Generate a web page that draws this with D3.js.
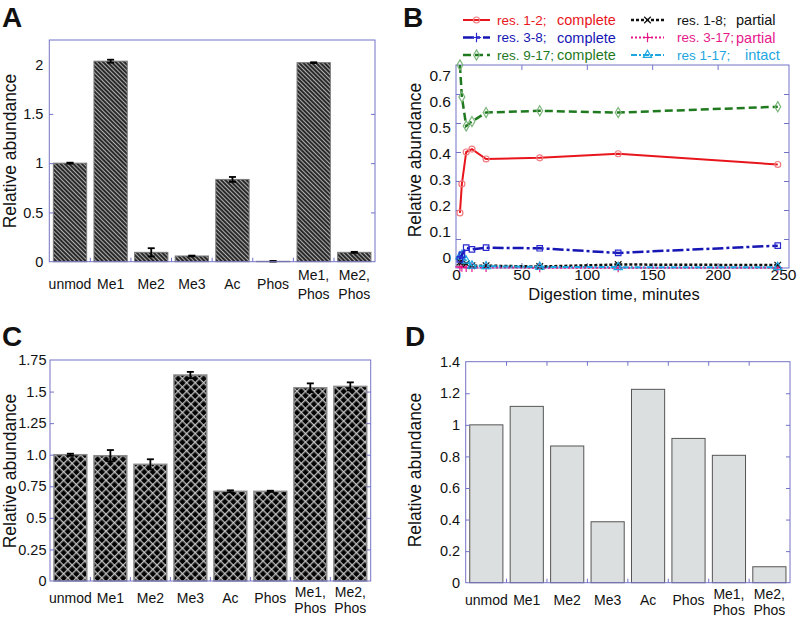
<!DOCTYPE html>
<html>
<head>
<meta charset="utf-8">
<script src="https://cdn.jsdelivr.net/npm/d3@7"></script>
<style>
  body { margin: 0; background: #fff; }
  text { font-family: 'Liberation Sans', Arial, sans-serif; fill: #111; }
</style>
</head>
<body>
<svg id="fig" width="800" height="619"></svg>
<script>
// ---- data ----
const categories = [['unmod'], ['Me1'], ['Me2'], ['Me3'], ['Ac'], ['Phos'], ['Me1,', 'Phos'], ['Me2,', 'Phos']]

const valuesA = [1.0, 2.035, 0.095, 0.058, 0.835, 0.004, 2.02, 0.095]
const errorsA = [0.005, 0.015, 0.042, 0.004, 0.025, 0.003, 0.004, 0.005]
const ticksA = [0, 0.5, 1, 1.5, 2]
const tickLabelsA = ['0', '0.5', '1', '1.5', '2']

const valuesC = [1.0, 0.992, 0.924, 1.631, 0.71, 0.71, 1.53, 1.541]
const errorsC = [0.008, 0.045, 0.04, 0.025, 0.008, 0.005, 0.035, 0.032]
const ticksC = [0, 0.25, 0.5, 0.75, 1, 1.25, 1.5, 1.75]
const tickLabelsC = ['0', '0.25', '0.5', '0.75', '1.0', '1.25', '1.5', '1.75']

const valuesD = [1.0, 1.117, 0.866, 0.386, 1.225, 0.914, 0.807, 0.101]
const ticksD = [0, 0.2, 0.4, 0.6, 0.8, 1, 1.2, 1.4]
const tickLabelsD = ['0', '0.2', '0.4', '0.6', '0.8', '1', '1.2', '1.4']

const times = [3, 4.5, 7.8, 12.2, 23, 64, 124, 246]
const res12 = [0.19, 0.29, 0.40, 0.41, 0.376, 0.38, 0.394, 0.357]
const res38 = [0.03, 0.045, 0.07, 0.064, 0.07, 0.068, 0.052, 0.077]
const res917 = [0.70, 0.59, 0.49, 0.505, 0.536, 0.542, 0.536, 0.556]
const res18 = [0.02, 0.02, 0.015, 0.008, 0.008, 0.005, 0.012, 0.01]
const res317 = [0.004, 0.003, 0.002, 0.002, 0.002, 0.001, 0.001, 0.001]
const res117 = [0.04, 0.045, 0.025, 0.008, 0.006, 0.004, 0.003, 0.003]
const xTicksB = [0, 50, 100, 150, 200, 250]
const yTicksB = [0, 0.1, 0.2, 0.3, 0.4, 0.5, 0.6, 0.7]
const legendNames = ['res. 1-2;', 'res. 3-8;', 'res. 9-17;', 'res. 1-8;', 'res. 3-17;', 'res 1-17;']
const legendStates = ['complete', 'complete', 'complete', 'partial', 'partial', 'intact']

const frameColor = '#7373c6'

const svg = d3.select('#fig')
const defs = svg.append('defs')

// diagonal stripes for panel A
const stripes = defs.append('pattern')
    .attr('id', 'stripes')
    .attr('patternUnits', 'userSpaceOnUse')
    .attr('width', 3).attr('height', 3)
    .attr('patternTransform', 'rotate(-45)')
stripes.append('rect').attr('width', 3).attr('height', 3).attr('fill', '#2a2a2a')
stripes.append('rect').attr('x', 0).attr('width', 1).attr('height', 3).attr('fill', '#808080')
stripes.append('rect').attr('x', 0.3).attr('width', 0.4).attr('height', 3).attr('fill', '#f4f4f4')

// diamond cross-hatch for panel C
const hatch = defs.append('pattern')
    .attr('id', 'hatch')
    .attr('patternUnits', 'userSpaceOnUse')
    .attr('width', 6).attr('height', 6)
    .attr('patternTransform', 'rotate(45)')
hatch.append('rect').attr('width', 6).attr('height', 6).attr('fill', '#030303')
hatch.append('rect').attr('width', 1.5).attr('height', 6).attr('fill', '#8a8a8a')
hatch.append('rect').attr('width', 6).attr('height', 1.5).attr('fill', '#8a8a8a')
hatch.append('rect').attr('x', 0.55).attr('width', 0.4).attr('height', 6).attr('fill', '#fff')
hatch.append('rect').attr('y', 0.55).attr('width', 6).attr('height', 0.4).attr('fill', '#fff')

const panelLetter = (x, y, s) => svg.append('text')
    .attr('x', x).attr('y', y)
    .attr('font-size', 28).attr('font-weight', 'bold')
    .text(s)

const yTitle = (cx, cy) => svg.append('text')
    .attr('transform', `translate(${cx},${cy}) rotate(-90)`)
    .attr('text-anchor', 'middle')
    .attr('dominant-baseline', 'central')
    .attr('font-size', 17.5)
    .text('Relative abundance')

/**
 * Bar panel used for A, C and D
 */
const barPanel = cfg => {
    const g = svg.append('g')

    const x = d3.scaleBand()
        .domain(d3.range(categories.length))
        .range([cfg.left, cfg.right])
        .paddingInner(0.18)
        .paddingOuter(0.1)

    const y = d3.scaleLinear()
        .domain([0, cfg.max])
        .range([cfg.bottom, cfg.top])

    // bars
    g.selectAll('rect.bar').data(cfg.values)
        .join('rect')
        .attr('class', 'bar')
        .attr('x', (d, i) => x(i))
        .attr('width', x.bandwidth())
        .attr('y', d => y(d))
        .attr('height', d => y(0) - y(d))
        .attr('fill', cfg.fill)
        .attr('stroke', cfg.stroke)
        .attr('stroke-width', cfg.strokeWidth)

    // error bars
    if (cfg.errors) {
        const eb = g.selectAll('g.err').data(cfg.values)
            .join('g')
            .attr('class', 'err')
            .attr('stroke', '#000')
            .attr('stroke-width', 1.8)
        const cx = i => x(i) + x.bandwidth() / 2
        eb.append('line')
            .attr('x1', (d, i) => cx(i)).attr('x2', (d, i) => cx(i))
            .attr('y1', (d, i) => y(d + cfg.errors[i]))
            .attr('y2', (d, i) => y(Math.max(0, d - cfg.errors[i])))
        eb.append('line')
            .attr('x1', (d, i) => cx(i) - 3.5).attr('x2', (d, i) => cx(i) + 3.5)
            .attr('y1', (d, i) => y(d + cfg.errors[i]))
            .attr('y2', (d, i) => y(d + cfg.errors[i]))
        eb.append('line')
            .attr('x1', (d, i) => cx(i) - 3.5).attr('x2', (d, i) => cx(i) + 3.5)
            .attr('y1', (d, i) => y(Math.max(0, d - cfg.errors[i])))
            .attr('y2', (d, i) => y(Math.max(0, d - cfg.errors[i])))
    }

    // frame
    g.append('rect')
        .attr('x', cfg.left).attr('y', cfg.top)
        .attr('width', cfg.right - cfg.left).attr('height', cfg.bottom - cfg.top)
        .attr('fill', 'none').attr('stroke', frameColor).attr('stroke-width', 1)

    // inward ticks left / right
    const inner = cfg.ticks.slice(1, -1)
    const leftTicks = g.append('g')
        .attr('transform', `translate(${cfg.left},0)`)
        .call(d3.axisLeft(y).tickValues(inner).tickSize(-4).tickFormat(''))
    const rightTicks = g.append('g')
        .attr('transform', `translate(${cfg.right},0)`)
        .call(d3.axisRight(y).tickValues(inner).tickSize(-4).tickFormat(''))
    ;[leftTicks, rightTicks].forEach(a => {
        a.select('.domain').remove()
        a.selectAll('line').attr('stroke', frameColor)
    })

    // tick labels
    const yLabels = g.append('g')
        .attr('transform', `translate(${cfg.left},0)`)
        .call(d3.axisLeft(y).tickValues(cfg.ticks).tickSize(0).tickPadding(cfg.labelPad)
            .tickFormat((d, i) => cfg.tickLabels[i]))
    yLabels.select('.domain').remove()
    yLabels.selectAll('text').attr('font-size', 14.5).attr('fill', '#111')
        .attr('font-family', "'Liberation Sans', Arial, sans-serif")

    // category boundary ticks
    const bounds = d3.range(1, categories.length).map(i => x(i) - x.step() * x.paddingInner() / 2)
    g.selectAll('line.bt').data(bounds)
        .join('line')
        .attr('class', 'bt')
        .attr('x1', d => d).attr('x2', d => d)
        .attr('y1', cfg.bottom).attr('y2', cfg.bottom - 4)
        .attr('stroke', frameColor)
    if (cfg.topTicks) {
        g.selectAll('line.tt').data(bounds)
            .join('line')
            .attr('class', 'tt')
            .attr('x1', d => d).attr('x2', d => d)
            .attr('y1', cfg.top).attr('y2', cfg.top + 4)
            .attr('stroke', frameColor)
    }

    // category labels
    g.selectAll('text.cat').data(categories)
        .join('text')
        .attr('class', 'cat')
        .attr('text-anchor', 'middle')
        .attr('font-size', 14)
        .each(function (lines, i) {
            const t = d3.select(this)
            const cx = x(i) + x.bandwidth() / 2
            lines.forEach((s, k) => {
                t.append('tspan')
                    .attr('x', cx)
                    .attr('y', lines.length === 1 ? cfg.labelY : cfg.labelY2[k])
                    .attr('dominant-baseline', 'central')
                    .text(s)
            })
        })
}

// ---- Panel A ----
panelLetter(2, 27, 'A')
yTitle(10, 151)
barPanel({
    left: 49.3, right: 375, top: 40, bottom: 261.7, max: 2.25,
    values: valuesA, errors: errorsA, ticks: ticksA, tickLabels: tickLabelsA,
    fill: 'url(#stripes)', stroke: '#7a7a7a', strokeWidth: 1,
    labelPad: 6, labelY: 283.5, labelY2: [275, 293.5]
})

// ---- Panel C ----
panelLetter(2, 346, 'C')
yTitle(10, 471)
barPanel({
    left: 50, right: 370.7, top: 360, bottom: 581, max: 1.75,
    values: valuesC, errors: errorsC, ticks: ticksC, tickLabels: tickLabelsC,
    fill: 'url(#hatch)', stroke: '#8a8a8a', strokeWidth: 1.5,
    labelPad: 3.5, labelY: 597.5, labelY2: [591.5, 608]
})

// ---- Panel D ----
panelLetter(405, 346, 'D')
yTitle(415, 470)
barPanel({
    left: 465.7, right: 790, top: 361.7, bottom: 582.7, max: 1.4,
    values: valuesD, ticks: ticksD, tickLabels: tickLabelsD,
    fill: '#dcdfe0', stroke: '#555', strokeWidth: 1,
    labelPad: 5.5, labelY: 600, labelY2: [593.5, 610], topTicks: true
})

// ---- Panel B ----
panelLetter(403, 27, 'B')
yTitle(415, 160)

const series = [
    { values: res12, color: '#e8161c', dash: null, width: 2, marker: 'circle', mColor: '#f07c80' },
    { values: res38, color: '#1616b4', dash: '11,3,3,3', width: 2.5, marker: 'square', mColor: '#2a2ad0' },
    { values: res917, color: '#1f7a1f', dash: '8,4', width: 2.5, marker: 'diamond', mColor: '#7bb57b' },
    { values: res18, color: '#111', dash: '3,2', width: 2.5, marker: 'times', mColor: '#111' },
    { values: res317, color: '#e6198a', dash: '2,2', width: 2, marker: 'plus', mColor: '#e6198a' },
    { values: res117, color: '#1ea6e0', dash: '6,2,2,2', width: 2, marker: 'triangle', mColor: '#1ea6e0' }
]
const legendMarker = ['circle', 'plus', 'diamond', 'times', 'plus', 'triangle']

const bLeft = 456, bRight = 789, bTop = 65, bBottom = 268
const xB = d3.scaleLinear().domain([0, 250]).range([bLeft, 783])
const yB = d3.scaleLinear().domain([0, 0.7]).range([bBottom, bTop])
// the tick labels of this panel sit slightly off the tick marks in the original
const yBLab = d3.scaleLinear().domain([0, 0.7]).range([258, 76])

const gB = svg.append('g')

gB.append('rect')
    .attr('x', bLeft).attr('y', bTop)
    .attr('width', bRight - bLeft).attr('height', bBottom - bTop)
    .attr('fill', 'none').attr('stroke', frameColor)

const bAxes = [
    gB.append('g').attr('transform', `translate(${bLeft},0)`)
        .call(d3.axisLeft(yB).tickValues(yTicksB.slice(1, -1)).tickSize(-5).tickFormat('')),
    gB.append('g').attr('transform', `translate(${bRight},0)`)
        .call(d3.axisRight(yB).tickValues(yTicksB.slice(1, -1)).tickSize(-5).tickFormat('')),
    gB.append('g').attr('transform', `translate(0,${bBottom})`)
        .call(d3.axisBottom(xB).tickValues(xTicksB.slice(1, -1)).tickSize(-5).tickFormat('')),
    gB.append('g').attr('transform', `translate(0,${bTop})`)
        .call(d3.axisTop(xB).tickValues(xTicksB.slice(1, -1)).tickSize(-5).tickFormat(''))
]
bAxes.forEach(a => {
    a.select('.domain').remove()
    a.selectAll('line').attr('stroke', frameColor)
})

const yLabB = gB.append('g').attr('transform', `translate(${bLeft},0)`)
    .call(d3.axisLeft(yBLab).tickValues(yTicksB).tickSize(0).tickPadding(5)
        .tickFormat(d => d === 0 ? '0' : d3.format('.1f')(d)))
yLabB.select('.domain').remove()
yLabB.selectAll('text').attr('font-size', 15.5).attr('fill', '#111')
    .attr('font-family', "'Liberation Sans', Arial, sans-serif")

const xLabB = gB.append('g').attr('transform', `translate(0,${bBottom})`)
    .call(d3.axisBottom(xB).tickValues(xTicksB).tickSize(0).tickPadding(1))
xLabB.select('.domain').remove()
xLabB.selectAll('text').attr('font-size', 15.5).attr('fill', '#111')
    .attr('font-family', "'Liberation Sans', Arial, sans-serif")

gB.append('text')
    .attr('x', 614).attr('y', 300)
    .attr('text-anchor', 'middle')
    .attr('font-size', 16.5)
    .text('Digestion time, minutes')

const symbolFor = name => {
    const types = {
        circle: d3.symbolCircle,
        square: d3.symbolSquare,
        diamond: d3.symbolDiamond,
        times: d3.symbolTimes || d3.symbolCross,
        plus: d3.symbolPlus || d3.symbolCross,
        triangle: d3.symbolTriangle
    }
    return d3.symbol().type(types[name]).size(name === 'circle' ? 28 : 30)()
}

const line = d3.line()
    .x((d, i) => xB(times[i]))
    .y(d => yB(d))

// draw bottom-most series first so the main curves stay on top
const drawOrder = [4, 3, 5, 1, 2, 0]
drawOrder.forEach(k => {
    const s = series[k]
    const sg = gB.append('g')
    sg.append('path')
        .attr('d', line(s.values))
        .attr('fill', 'none')
        .attr('stroke', s.color)
        .attr('stroke-width', s.width)
        .attr('stroke-dasharray', s.dash)
    sg.selectAll('path.m').data(s.values)
        .join('path')
        .attr('class', 'm')
        .attr('transform', (d, i) => `translate(${xB(times[i])},${yB(d)})`)
        .attr('d', symbolFor(s.marker))
        .attr('fill', 'none')
        .attr('stroke', s.mColor)
        .attr('stroke-width', 1.2)
})

// legend, two columns of three
const legend = gB.append('g')
series.forEach((s, i) => {
    const col = Math.floor(i / 3)
    const row = i % 3
    const ly = 20 + row * 17.5
    const lx0 = col === 0 ? 463 : 631
    const lx1 = col === 0 ? 490 : 664
    legend.append('line')
        .attr('x1', lx0).attr('x2', lx1)
        .attr('y1', ly).attr('y2', ly)
        .attr('stroke', s.color)
        .attr('stroke-width', s.width)
        .attr('stroke-dasharray', s.dash)
    legend.append('path')
        .attr('transform', `translate(${(lx0 + lx1) / 2},${ly})`)
        .attr('d', symbolFor(legendMarker[i]))
        .attr('fill', 'none')
        .attr('stroke', s.mColor)
        .attr('stroke-width', 1.2)
    legend.append('text')
        .attr('x', col === 0 ? 497 : 677).attr('y', ly)
        .attr('dominant-baseline', 'central')
        .attr('font-size', 13.5)
        .style('fill', s.color)
        .text(legendNames[i])
    legend.append('text')
        .attr('x', col === 0 ? 557 : (legendStates[i] === 'intact' ? 745 : 736)).attr('y', ly)
        .attr('dominant-baseline', 'central')
        .attr('font-size', 14.5)
        .style('fill', s.color)
        .text(legendStates[i])
})
</script>
</body>
</html>
